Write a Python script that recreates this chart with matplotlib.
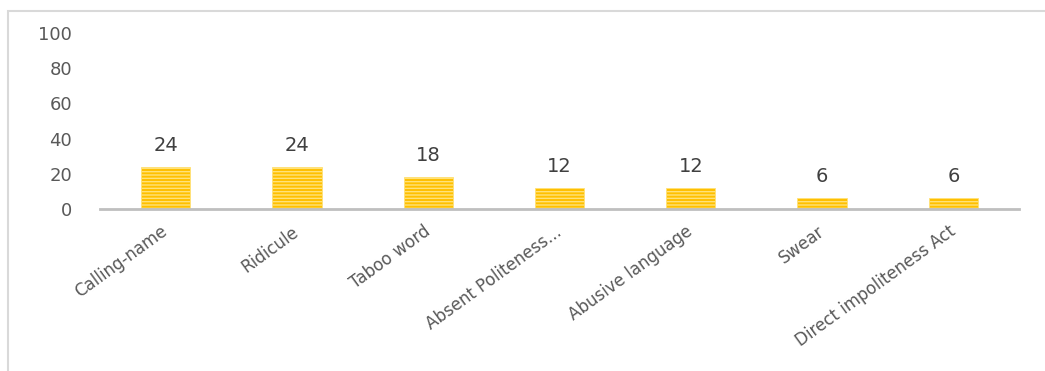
import matplotlib.pyplot as plt
from matplotlib.patches import Rectangle

categories = ["Calling-name", "Ridicule", "Taboo word", "Absent Politeness...",
              "Abusive language", "Swear", "Direct impoliteness Act"]
values = [24, 24, 18, 12, 12, 6, 6]
yticks = [0, 20, 40, 60, 80, 100]

plt.rcParams["font.family"] = ["DejaVu Sans"]
plt.rcParams["hatch.linewidth"] = 1.0

figure = plt.figure(figsize=(10.45, 3.71), dpi=100)

# outer chart frame (only top and left edges fall inside the image)
figure.patches.append(Rectangle((8/1045, -0.1), 1.2, 1 - 11/371 + 0.1, transform=figure.transFigure,
                                fill=False, edgecolor="#D9D9D9", linewidth=1.5))

axes = figure.add_axes([100/1045, 1 - 209/371, (1019 - 100)/1045, (209 - 33)/371])

positions = range(len(categories))
bars = axes.bar(positions, values, width=0.375, color="#FFC000", edgecolor="#FFE27A",
                linewidth=0.6, hatch="-----", zorder=2)

for bar, value in zip(bars, values):
    axes.annotate(str(value), (bar.get_x() + bar.get_width()/2, value), xytext=(0, 15.5),
                  textcoords="offset points", ha="center", va="center",
                  fontsize=14, color="#404040")

axes.set_xlim(-0.5, len(categories) - 0.5)
axes.set_ylim(0, 100)
axes.set_yticks(yticks)
axes.set_xticks(list(positions))
axes.set_xticklabels(categories, rotation=36, ha="right", va="center", rotation_mode="anchor",
                     fontsize=12)

axes.tick_params(axis="both", length=0, colors="#595959")
axes.tick_params(axis="y", pad=20, labelsize=13)
axes.tick_params(axis="x", pad=15)

for side in ["top", "right", "left"]:
    axes.spines[side].set_visible(False)
axes.spines["bottom"].set_color("#BFBFBF")
axes.spines["bottom"].set_linewidth(2)
axes.spines["bottom"].set_zorder(3)

figure.savefig("out.png", dpi=100)
